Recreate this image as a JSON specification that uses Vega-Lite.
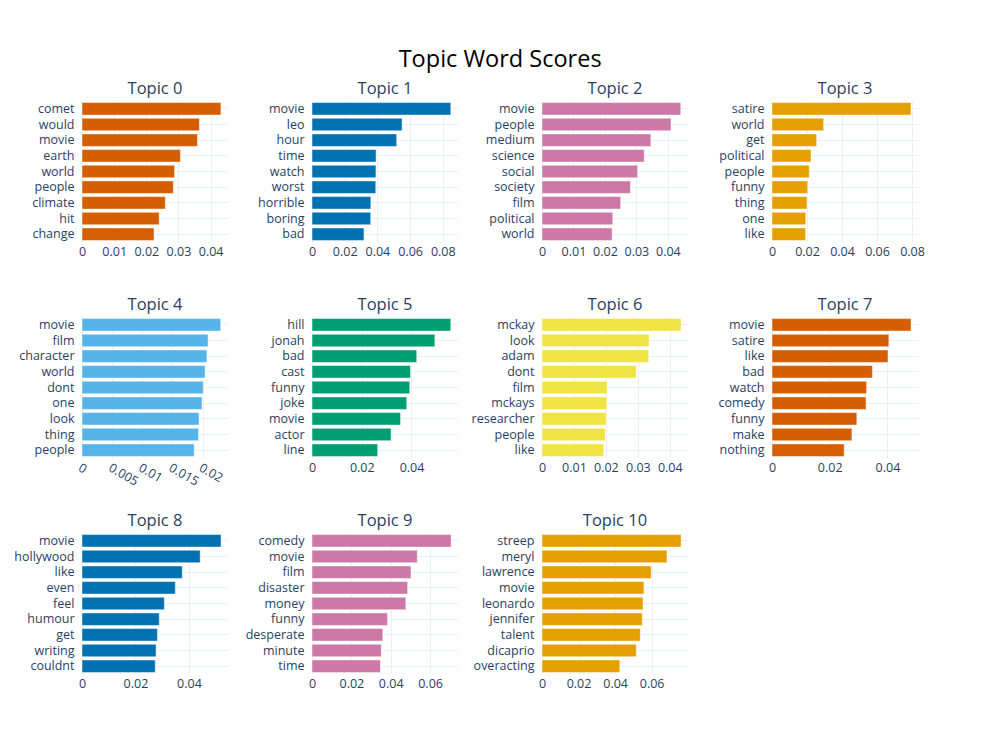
{
  "$schema": "https://vega.github.io/schema/vega-lite/v6.json",
  "padding": {"left": 13, "top": 48, "right": 20, "bottom": 20},
  "background": "white",
  "title": {"text": "Topic Word Scores", "fontSize": 23.5, "color": "black", "fontWeight": "normal", "anchor": "middle", "offset": 9, "dx": 31, "font": "Open Sans"},
  "bounds": "flush",
  "columns": 4,
  "spacing": {"row": 75, "column": 84},
  "data": {"values": [
    {"topic": "Topic 0", "word": "comet", "score": 0.0432},
    {"topic": "Topic 0", "word": "would", "score": 0.0365},
    {"topic": "Topic 0", "word": "movie", "score": 0.0359},
    {"topic": "Topic 0", "word": "earth", "score": 0.0306},
    {"topic": "Topic 0", "word": "world", "score": 0.0288},
    {"topic": "Topic 0", "word": "people", "score": 0.0284},
    {"topic": "Topic 0", "word": "climate", "score": 0.0259},
    {"topic": "Topic 0", "word": "hit", "score": 0.0240},
    {"topic": "Topic 0", "word": "change", "score": 0.0224},
    {"topic": "Topic 1", "word": "movie", "score": 0.0849},
    {"topic": "Topic 1", "word": "leo", "score": 0.0551},
    {"topic": "Topic 1", "word": "hour", "score": 0.0518},
    {"topic": "Topic 1", "word": "time", "score": 0.0392},
    {"topic": "Topic 1", "word": "watch", "score": 0.0391},
    {"topic": "Topic 1", "word": "worst", "score": 0.0390},
    {"topic": "Topic 1", "word": "horrible", "score": 0.0360},
    {"topic": "Topic 1", "word": "boring", "score": 0.0359},
    {"topic": "Topic 1", "word": "bad", "score": 0.0318},
    {"topic": "Topic 2", "word": "movie", "score": 0.0441},
    {"topic": "Topic 2", "word": "people", "score": 0.0410},
    {"topic": "Topic 2", "word": "medium", "score": 0.0346},
    {"topic": "Topic 2", "word": "science", "score": 0.0325},
    {"topic": "Topic 2", "word": "social", "score": 0.0304},
    {"topic": "Topic 2", "word": "society", "score": 0.0281},
    {"topic": "Topic 2", "word": "film", "score": 0.0250},
    {"topic": "Topic 2", "word": "political", "score": 0.0225},
    {"topic": "Topic 2", "word": "world", "score": 0.0223},
    {"topic": "Topic 3", "word": "satire", "score": 0.0794},
    {"topic": "Topic 3", "word": "world", "score": 0.0295},
    {"topic": "Topic 3", "word": "get", "score": 0.0255},
    {"topic": "Topic 3", "word": "political", "score": 0.0223},
    {"topic": "Topic 3", "word": "people", "score": 0.0213},
    {"topic": "Topic 3", "word": "funny", "score": 0.0204},
    {"topic": "Topic 3", "word": "thing", "score": 0.0200},
    {"topic": "Topic 3", "word": "one", "score": 0.0193},
    {"topic": "Topic 3", "word": "like", "score": 0.0192},
    {"topic": "Topic 4", "word": "movie", "score": 0.0230},
    {"topic": "Topic 4", "word": "film", "score": 0.0209},
    {"topic": "Topic 4", "word": "character", "score": 0.0207},
    {"topic": "Topic 4", "word": "world", "score": 0.0204},
    {"topic": "Topic 4", "word": "dont", "score": 0.0201},
    {"topic": "Topic 4", "word": "one", "score": 0.0199},
    {"topic": "Topic 4", "word": "look", "score": 0.0194},
    {"topic": "Topic 4", "word": "thing", "score": 0.0193},
    {"topic": "Topic 4", "word": "people", "score": 0.0186},
    {"topic": "Topic 5", "word": "hill", "score": 0.0558},
    {"topic": "Topic 5", "word": "jonah", "score": 0.0494},
    {"topic": "Topic 5", "word": "bad", "score": 0.0421},
    {"topic": "Topic 5", "word": "cast", "score": 0.0396},
    {"topic": "Topic 5", "word": "funny", "score": 0.0393},
    {"topic": "Topic 5", "word": "joke", "score": 0.0381},
    {"topic": "Topic 5", "word": "movie", "score": 0.0356},
    {"topic": "Topic 5", "word": "actor", "score": 0.0318},
    {"topic": "Topic 5", "word": "line", "score": 0.0264},
    {"topic": "Topic 6", "word": "mckay", "score": 0.0435},
    {"topic": "Topic 6", "word": "look", "score": 0.0335},
    {"topic": "Topic 6", "word": "adam", "score": 0.0334},
    {"topic": "Topic 6", "word": "dont", "score": 0.0295},
    {"topic": "Topic 6", "word": "film", "score": 0.0204},
    {"topic": "Topic 6", "word": "mckays", "score": 0.0203},
    {"topic": "Topic 6", "word": "researcher", "score": 0.0201},
    {"topic": "Topic 6", "word": "people", "score": 0.0198},
    {"topic": "Topic 6", "word": "like", "score": 0.0193},
    {"topic": "Topic 7", "word": "movie", "score": 0.0482},
    {"topic": "Topic 7", "word": "satire", "score": 0.0405},
    {"topic": "Topic 7", "word": "like", "score": 0.0402},
    {"topic": "Topic 7", "word": "bad", "score": 0.0348},
    {"topic": "Topic 7", "word": "watch", "score": 0.0328},
    {"topic": "Topic 7", "word": "comedy", "score": 0.0326},
    {"topic": "Topic 7", "word": "funny", "score": 0.0294},
    {"topic": "Topic 7", "word": "make", "score": 0.0277},
    {"topic": "Topic 7", "word": "nothing", "score": 0.0250},
    {"topic": "Topic 8", "word": "movie", "score": 0.0520},
    {"topic": "Topic 8", "word": "hollywood", "score": 0.0442},
    {"topic": "Topic 8", "word": "like", "score": 0.0375},
    {"topic": "Topic 8", "word": "even", "score": 0.0349},
    {"topic": "Topic 8", "word": "feel", "score": 0.0308},
    {"topic": "Topic 8", "word": "humour", "score": 0.0289},
    {"topic": "Topic 8", "word": "get", "score": 0.0282},
    {"topic": "Topic 8", "word": "writing", "score": 0.0277},
    {"topic": "Topic 8", "word": "couldnt", "score": 0.0274},
    {"topic": "Topic 9", "word": "comedy", "score": 0.0707},
    {"topic": "Topic 9", "word": "movie", "score": 0.0535},
    {"topic": "Topic 9", "word": "film", "score": 0.0503},
    {"topic": "Topic 9", "word": "disaster", "score": 0.0486},
    {"topic": "Topic 9", "word": "money", "score": 0.0477},
    {"topic": "Topic 9", "word": "funny", "score": 0.0384},
    {"topic": "Topic 9", "word": "desperate", "score": 0.0360},
    {"topic": "Topic 9", "word": "minute", "score": 0.0352},
    {"topic": "Topic 9", "word": "time", "score": 0.0348},
    {"topic": "Topic 10", "word": "streep", "score": 0.0761},
    {"topic": "Topic 10", "word": "meryl", "score": 0.0684},
    {"topic": "Topic 10", "word": "lawrence", "score": 0.0598},
    {"topic": "Topic 10", "word": "movie", "score": 0.0558},
    {"topic": "Topic 10", "word": "leonardo", "score": 0.0553},
    {"topic": "Topic 10", "word": "jennifer", "score": 0.0549},
    {"topic": "Topic 10", "word": "talent", "score": 0.0538},
    {"topic": "Topic 10", "word": "dicaprio", "score": 0.0516},
    {"topic": "Topic 10", "word": "overacting", "score": 0.0426}
  ]},
  "concat": [
    {"title": "Topic 0", "width": 146, "height": 141, "transform": [{"filter": "datum.topic === 'Topic 0'"}],
     "mark": {"type": "bar", "color": "#D55E00", "stroke": "#ffffff", "strokeWidth": 0.5},
     "encoding": {"y": {"field": "word", "type": "nominal", "sort": null},
       "x": {"field": "score", "type": "quantitative", "scale": {"domain": [0, 0.0454], "nice": false}, "axis": {"values": [0, 0.01, 0.02, 0.03, 0.04], "format": "~g"}}}},
    {"title": "Topic 1", "width": 146, "height": 141, "transform": [{"filter": "datum.topic === 'Topic 1'"}],
     "mark": {"type": "bar", "color": "#0072B2", "stroke": "#ffffff", "strokeWidth": 0.5},
     "encoding": {"y": {"field": "word", "type": "nominal", "sort": null},
       "x": {"field": "score", "type": "quantitative", "scale": {"domain": [0, 0.0893], "nice": false}, "axis": {"values": [0, 0.02, 0.04, 0.06, 0.08], "format": "~g"}}}},
    {"title": "Topic 2", "width": 146, "height": 141, "transform": [{"filter": "datum.topic === 'Topic 2'"}],
     "mark": {"type": "bar", "color": "#CC79A7", "stroke": "#ffffff", "strokeWidth": 0.5},
     "encoding": {"y": {"field": "word", "type": "nominal", "sort": null},
       "x": {"field": "score", "type": "quantitative", "scale": {"domain": [0, 0.0464], "nice": false}, "axis": {"values": [0, 0.01, 0.02, 0.03, 0.04], "format": "~g"}}}},
    {"title": "Topic 3", "width": 146, "height": 141, "transform": [{"filter": "datum.topic === 'Topic 3'"}],
     "mark": {"type": "bar", "color": "#E69F00", "stroke": "#ffffff", "strokeWidth": 0.5},
     "encoding": {"y": {"field": "word", "type": "nominal", "sort": null},
       "x": {"field": "score", "type": "quantitative", "scale": {"domain": [0, 0.0834], "nice": false}, "axis": {"values": [0, 0.02, 0.04, 0.06, 0.08], "format": "~g"}}}},
    {"title": "Topic 4", "width": 146, "height": 141, "transform": [{"filter": "datum.topic === 'Topic 4'"}],
     "mark": {"type": "bar", "color": "#56B4E9", "stroke": "#ffffff", "strokeWidth": 0.5},
     "encoding": {"y": {"field": "word", "type": "nominal", "sort": null},
       "x": {"field": "score", "type": "quantitative", "scale": {"domain": [0, 0.0242], "nice": false}, "axis": {"values": [0, 0.005, 0.01, 0.015, 0.02], "format": "~g", "labelAngle": 30, "labelAlign": "left", "labelBaseline": "top", "labelOverlap": false}}}},
    {"title": "Topic 5", "width": 146, "height": 141, "transform": [{"filter": "datum.topic === 'Topic 5'"}],
     "mark": {"type": "bar", "color": "#009E73", "stroke": "#ffffff", "strokeWidth": 0.5},
     "encoding": {"y": {"field": "word", "type": "nominal", "sort": null},
       "x": {"field": "score", "type": "quantitative", "scale": {"domain": [0, 0.0587], "nice": false}, "axis": {"values": [0, 0.02, 0.04], "format": "~g"}}}},
    {"title": "Topic 6", "width": 146, "height": 141, "transform": [{"filter": "datum.topic === 'Topic 6'"}],
     "mark": {"type": "bar", "color": "#F0E442", "stroke": "#ffffff", "strokeWidth": 0.5},
     "encoding": {"y": {"field": "word", "type": "nominal", "sort": null},
       "x": {"field": "score", "type": "quantitative", "scale": {"domain": [0, 0.0457], "nice": false}, "axis": {"values": [0, 0.01, 0.02, 0.03, 0.04], "format": "~g"}}}},
    {"title": "Topic 7", "width": 146, "height": 141, "transform": [{"filter": "datum.topic === 'Topic 7'"}],
     "mark": {"type": "bar", "color": "#D55E00", "stroke": "#ffffff", "strokeWidth": 0.5},
     "encoding": {"y": {"field": "word", "type": "nominal", "sort": null},
       "x": {"field": "score", "type": "quantitative", "scale": {"domain": [0, 0.0506], "nice": false}, "axis": {"values": [0, 0.02, 0.04], "format": "~g"}}}},
    {"title": "Topic 8", "width": 146, "height": 141, "transform": [{"filter": "datum.topic === 'Topic 8'"}],
     "mark": {"type": "bar", "color": "#0072B2", "stroke": "#ffffff", "strokeWidth": 0.5},
     "encoding": {"y": {"field": "word", "type": "nominal", "sort": null},
       "x": {"field": "score", "type": "quantitative", "scale": {"domain": [0, 0.0546], "nice": false}, "axis": {"values": [0, 0.02, 0.04], "format": "~g"}}}},
    {"title": "Topic 9", "width": 146, "height": 141, "transform": [{"filter": "datum.topic === 'Topic 9'"}],
     "mark": {"type": "bar", "color": "#CC79A7", "stroke": "#ffffff", "strokeWidth": 0.5},
     "encoding": {"y": {"field": "word", "type": "nominal", "sort": null},
       "x": {"field": "score", "type": "quantitative", "scale": {"domain": [0, 0.0742], "nice": false}, "axis": {"values": [0, 0.02, 0.04, 0.06], "format": "~g"}}}},
    {"title": "Topic 10", "width": 146, "height": 141, "transform": [{"filter": "datum.topic === 'Topic 10'"}],
     "mark": {"type": "bar", "color": "#E69F00", "stroke": "#ffffff", "strokeWidth": 0.5},
     "encoding": {"y": {"field": "word", "type": "nominal", "sort": null},
       "x": {"field": "score", "type": "quantitative", "scale": {"domain": [0, 0.0799], "nice": false}, "axis": {"values": [0, 0.02, 0.04, 0.06], "format": "~g"}}}}
  ],
  "config": {
    "font": "Open Sans",
    "view": {"stroke": null},
    "scale": {"bandPaddingInner": 0.2, "bandPaddingOuter": 0.1},
    "axis": {"domain": false, "ticks": false, "gridColor": "#EBF0F8", "gridWidth": 1, "labelColor": "#2a3f5f", "labelFontSize": 12.5, "title": null, "labelFont": "Open Sans"},
    "axisY": {"labelPadding": 8, "grid": true},
    "axisX": {"labelPadding": 3, "labelFlush": false},
    "title": {"fontSize": 16.5, "color": "#2a3f5f", "fontWeight": "normal", "offset": 4, "font": "Open Sans"}
  }
}
